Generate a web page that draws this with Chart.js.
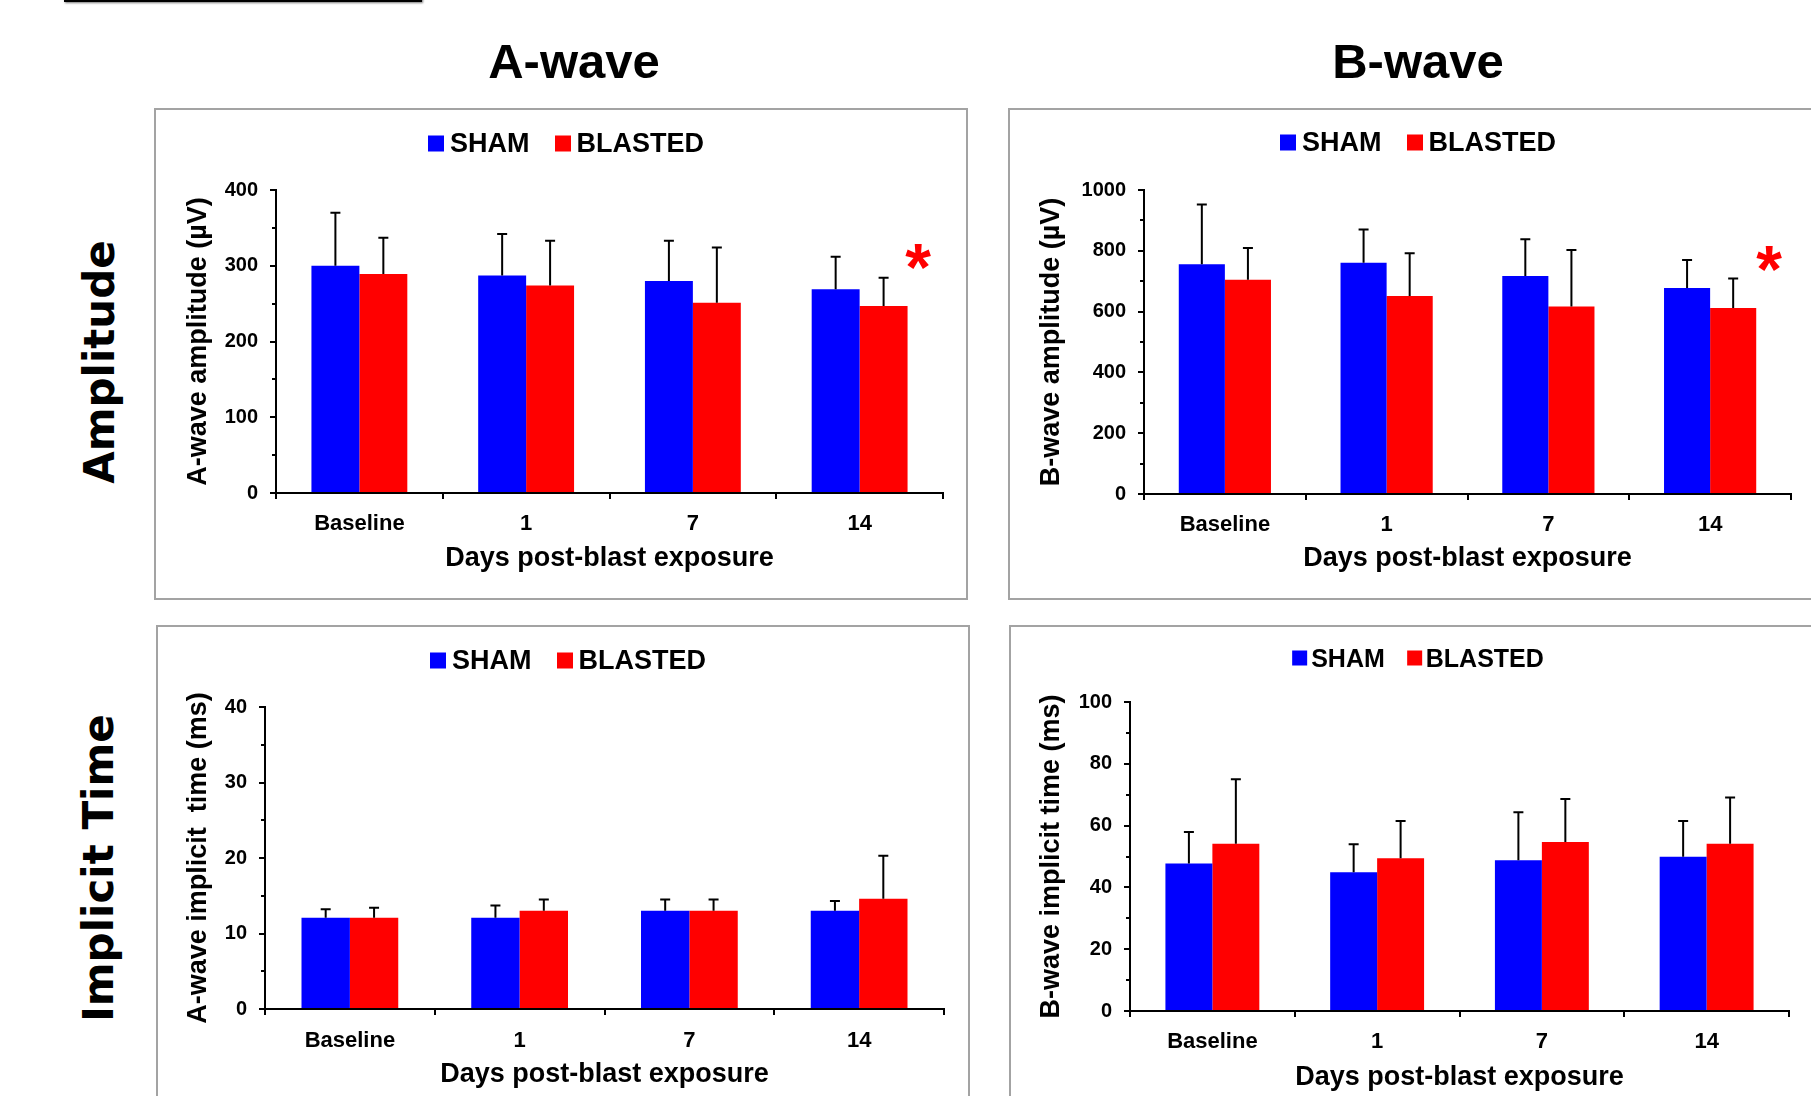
<!DOCTYPE html>
<html>
<head>
<meta charset="utf-8">
<title>ERG amplitude and implicit time after blast exposure</title>
<script src="https://cdn.jsdelivr.net/npm/chart.js@4.4.1/dist/chart.umd.min.js"></script>
<style>
  html, body { margin: 0; padding: 0; background: #fff; }
  body { position: relative; width: 1811px; height: 1096px; overflow: hidden; font-family: Arial, "Liberation Sans", sans-serif; color: #000; }
  .frame { position: absolute; border: 2px solid #a3a3a3; box-sizing: border-box; }
  .stray { position: absolute; left: 64px; top: -32px; width: 358px; height: 34px; border: 2px solid #000; box-sizing: border-box; box-shadow: 1px 1px 2px #777; }
  canvas { position: absolute; }
  .lbl { position: absolute; line-height: 1; white-space: nowrap; font-weight: bold; transform: translate(-50%, -50%); }
  .row { font-family: "DejaVu Sans", sans-serif; font-size: 42px; transform: translate(-50%, -50%) rotate(-90deg); }
  .col { font-size: 49px; }
  .legend { position: absolute; display: flex; align-items: center; line-height: 1; font-weight: bold; white-space: nowrap; transform: translate(-50%, -50%); }
  .legend i { display: inline-block; }
</style>
</head>
<body>
<div class="stray"></div>
<div class="lbl col" style="left:574px; top:61px;">A-wave</div>
<div class="lbl col" style="left:1418px; top:61px;">B-wave</div>
<div class="lbl row" style="left:100px; top:362px;">Amplitude</div>
<div class="lbl row" style="left:99px; top:868px;">Implicit Time</div>

<script>
// categories and series
var days = ['Baseline', '1', '7', '14'];
var groups = ['SHAM', 'BLASTED'];
var groupColors = ['#0000ff', '#ff0000'];

// A-wave amplitude (uV): mean and SD
var aAmpSham = [300, 287, 280, 269];
var aAmpShamSd = [70, 55, 53, 43];
var aAmpBlast = [289, 274, 251, 247];
var aAmpBlastSd = [48, 59, 73, 37];

// B-wave amplitude (uV)
var bAmpSham = [756, 761, 717, 678];
var bAmpShamSd = [196, 109, 121, 92];
var bAmpBlast = [705, 651, 617, 612];
var bAmpBlastSd = [104, 141, 186, 97];

// A-wave implicit time (ms)
var aTimeSham = [12.1, 12.1, 13.0, 13.0];
var aTimeShamSd = [1.1, 1.6, 1.5, 1.3];
var aTimeBlast = [12.1, 13.0, 13.0, 14.6];
var aTimeBlastSd = [1.3, 1.5, 1.5, 5.7];

// B-wave implicit time (ms)
var bTimeSham = [47.7, 44.9, 48.8, 49.9];
var bTimeShamSd = [10.2, 9.1, 15.5, 11.6];
var bTimeBlast = [54.1, 49.4, 54.7, 54.1];
var bTimeBlastSd = [20.9, 12.1, 13.9, 15.0];

Chart.defaults.font.family = 'Arial, "Liberation Sans", sans-serif';
Chart.defaults.color = '#000';

// error bars (mean + SD, upward only)
const errorBars = {
    id: 'errorBars',
    afterDatasetsDraw(chart) {
        const ctx = chart.ctx;
        const yScale = chart.scales.y;
        chart.data.datasets.forEach((ds, i) => {
            chart.getDatasetMeta(i).data.forEach((bar, j) => {
                const top = yScale.getPixelForValue(ds.data[j] + ds.sd[j]);
                ctx.save();
                ctx.strokeStyle = '#000';
                ctx.lineWidth = 2;
                ctx.beginPath();
                ctx.moveTo(bar.x, bar.y);
                ctx.lineTo(bar.x, top);
                ctx.moveTo(bar.x - 5, top);
                ctx.lineTo(bar.x + 5, top);
                ctx.stroke();
                ctx.restore();
            });
        });
    }
};

// short minor ticks between the labelled ones
const minorTicks = {
    id: 'minorTicks',
    afterDraw(chart, args, opts) {
        const s = chart.scales.y;
        const ctx = chart.ctx;
        ctx.save();
        ctx.strokeStyle = '#000';
        ctx.lineWidth = 2;
        for (let v = opts.step; v < s.max; v += opts.step * 2) {
            const py = Math.round(s.getPixelForValue(v));
            ctx.beginPath();
            ctx.moveTo(s.right - 4, py);
            ctx.lineTo(s.right, py);
            ctx.stroke();
        }
        ctx.restore();
    }
};

// significance asterisk
const star = {
    id: 'star',
    afterDraw(chart, args, opts) {
        if (opts.value == null) return;
        const x = chart.scales.x, y = chart.scales.y;
        const catW = x.getPixelForValue(1) - x.getPixelForValue(0);
        const px = x.getPixelForValue(opts.index) + opts.shift * catW;
        const py = y.getPixelForValue(opts.value);
        const ctx = chart.ctx;
        ctx.save();
        ctx.fillStyle = '#ff0000';
        ctx.font = 'bold 66px Arial, "Liberation Sans", sans-serif';
        ctx.textAlign = 'center';
        ctx.textBaseline = 'alphabetic';
        ctx.fillText('*', px, py + 0.57 * 66);
        ctx.restore();
    }
};

function addLegend(lg) {
    const div = document.createElement('div');
    div.className = 'legend';
    div.style.left = lg.x + 'px';
    div.style.top = lg.y + 'px';
    div.style.fontSize = lg.font + 'px';
    groups.forEach((g, i) => {
        const box = document.createElement('i');
        box.style.width = lg.box + 'px';
        box.style.height = lg.box + 'px';
        box.style.background = groupColors[i];
        box.style.marginRight = lg.gap + 'px';
        if (i > 0) box.style.marginLeft = lg.itemGap + 'px';
        const t = document.createElement('span');
        t.textContent = g;
        div.appendChild(box);
        div.appendChild(t);
    });
    document.body.appendChild(div);
}

function makePanel(p) {
    const [bl, bt, bw, bh] = p.box;
    const [al, at, ar, ab] = p.area;

    const frame = document.createElement('div');
    frame.className = 'frame';
    frame.style.left = bl + 'px'; frame.style.top = bt + 'px';
    frame.style.width = bw + 'px'; frame.style.height = bh + 'px';
    document.body.appendChild(frame);

    const cv = document.createElement('canvas');
    cv.width = bw; cv.height = bh;
    cv.style.left = bl + 'px'; cv.style.top = bt + 'px';
    document.body.appendChild(cv);

    const titleHalf = 27 * 1.2 / 2;
    const padLeft = p.yTitleX - titleHalf - bl;
    const yWidth = al - bl - padLeft;
    const scaleBottom = p.xTitleY + titleHalf;
    const padBottom = bt + bh - scaleBottom;
    const xHeight = scaleBottom - ab;

    new Chart(cv, {
        type: 'bar',
        data: {
            labels: days,
            datasets: [
                { label: groups[0], data: p.sham, sd: p.shamSd, backgroundColor: groupColors[0] },
                { label: groups[1], data: p.blast, sd: p.blastSd, backgroundColor: groupColors[1] }
            ]
        },
        options: {
            responsive: false,
            animation: false,
            layout: { padding: { left: padLeft, top: at - bt, right: bl + bw - ar, bottom: padBottom } },
            datasets: { bar: { categoryPercentage: p.catPct, barPercentage: 1, borderWidth: 0 } },
            plugins: {
                legend: { display: false },
                tooltip: { enabled: false },
                minorTicks: { step: p.step / 2 },
                star: p.star || {}
            },
            scales: {
                x: {
                    offset: true,
                    grid: { offset: true, drawOnChartArea: false, drawTicks: true, tickLength: 6, color: '#000', lineWidth: 2 },
                    border: { color: '#000', width: 2 },
                    ticks: { color: '#000', font: { size: 22, weight: 'bold' }, padding: p.xPad, maxRotation: 0 },
                    title: { display: true, text: 'Days post-blast exposure', color: '#000', font: { size: 27, weight: 'bold' }, padding: 0 },
                    afterFit(s) { s.height = xHeight; }
                },
                y: {
                    min: 0,
                    max: p.max,
                    grid: { drawOnChartArea: false, drawTicks: true, tickLength: 6, color: '#000', lineWidth: 2 },
                    border: { color: '#000', width: 2 },
                    ticks: { stepSize: p.step, color: '#000', font: { size: 20, weight: 'bold' }, padding: 12, callback: (v) => String(v) },
                    title: { display: true, text: p.yTitle, color: '#000', font: { size: 27, weight: 'bold' }, padding: 0 },
                    afterFit(s) { s.width = yWidth; }
                }
            }
        },
        plugins: [errorBars, minorTicks, star]
    });

    addLegend(p.legend);
}

makePanel({
    box: [154, 108, 814, 492], area: [276, 190, 943, 493],
    yTitleX: 199, xTitleY: 559, xPad: 12, catPct: 0.575,
    max: 400, step: 100, yTitle: 'A-wave amplitude (\u00b5V)',
    sham: aAmpSham, shamSd: aAmpShamSd, blast: aAmpBlast, blastSd: aAmpBlastSd,
    star: { index: 3, shift: 0.35, value: 317 },
    legend: { x: 566, y: 143, font: 27, box: 16, gap: 6, itemGap: 25 }
});

makePanel({
    box: [1008, 108, 814, 492], area: [1144, 190, 1791, 494],
    yTitleX: 1052, xTitleY: 559, xPad: 12, catPct: 0.57,
    max: 1000, step: 200, yTitle: 'B-wave amplitude (\u00b5V)',
    sham: bAmpSham, shamSd: bAmpShamSd, blast: bAmpBlast, blastSd: bAmpBlastSd,
    star: { index: 3, shift: 0.365, value: 788 },
    legend: { x: 1418, y: 142, font: 27, box: 16, gap: 6, itemGap: 25 }
});

makePanel({
    box: [156, 625, 814, 480], area: [265, 707, 944, 1009],
    yTitleX: 199, xTitleY: 1075, xPad: 13, catPct: 0.57,
    max: 40, step: 10, yTitle: 'A-wave implicit  time (ms)',
    sham: aTimeSham, shamSd: aTimeShamSd, blast: aTimeBlast, blastSd: aTimeBlastSd,
    legend: { x: 568, y: 660, font: 27, box: 16, gap: 6, itemGap: 25 }
});

makePanel({
    box: [1009, 625, 814, 480], area: [1130, 702, 1789, 1011],
    yTitleX: 1052, xTitleY: 1077.5, xPad: 12, catPct: 0.57,
    max: 100, step: 20, yTitle: 'B-wave implicit time (ms)',
    sham: bTimeSham, shamSd: bTimeShamSd, blast: bTimeBlast, blastSd: bTimeBlastSd,
    legend: { x: 1418, y: 658, font: 25, box: 15, gap: 4, itemGap: 22 }
});
</script>
</body>
</html>
